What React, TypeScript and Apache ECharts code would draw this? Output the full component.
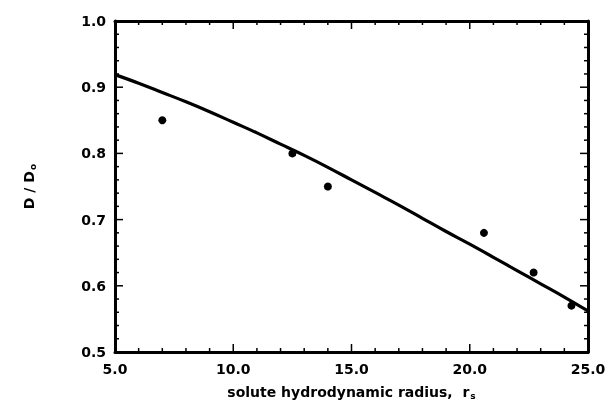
import React, { useEffect, useRef } from "react";
import * as echarts from "echarts";

const pointX = [7.0, 12.5, 14.0, 20.6, 22.7, 24.3];
const pointY = [0.85, 0.8, 0.75, 0.68, 0.62, 0.57];

const curveX = [5, 6, 7, 8, 9, 10, 11, 12, 13, 14, 15, 16, 17, 18, 19, 20, 21, 22, 23, 24, 25];
const curveY = [0.919, 0.906, 0.892, 0.878, 0.863, 0.847, 0.831, 0.814, 0.797, 0.779, 0.76, 0.741, 0.722, 0.702, 0.682, 0.663, 0.643, 0.623, 0.603, 0.583, 0.562];

const xMajorTicks = [5, 10, 15, 20, 25];
const xMinorPerMajor = 5;
const yMajorTicks = [0.5, 0.6, 0.7, 0.8, 0.9, 1.0];
const yMinorPerMajor = 5;

const xTitle = "solute hydrodynamic radius,  r";
const xTitleSub = "s";
const yTitle = "D / D";
const yTitleSub = "o";

const FONT = "DejaVu Sans";
const X_MIN = 5, X_MAX = 25, Y_MIN = 0.5, Y_MAX = 1.0;

function buildTicks() {
  const out: { v: number; axis: number; major: boolean }[] = [];
  for (let i = 0; i < xMajorTicks.length; i++) {
    out.push({ v: xMajorTicks[i], axis: 0, major: true });
    if (i < xMajorTicks.length - 1) {
      const step = (xMajorTicks[i + 1] - xMajorTicks[i]) / xMinorPerMajor;
      for (let k = 1; k < xMinorPerMajor; k++) out.push({ v: xMajorTicks[i] + k * step, axis: 0, major: false });
    }
  }
  for (let i = 0; i < yMajorTicks.length; i++) {
    out.push({ v: yMajorTicks[i], axis: 1, major: true });
    if (i < yMajorTicks.length - 1) {
      const step = (yMajorTicks[i + 1] - yMajorTicks[i]) / yMinorPerMajor;
      for (let k = 1; k < yMinorPerMajor; k++) out.push({ v: yMajorTicks[i] + k * step, axis: 1, major: false });
    }
  }
  return out;
}

export default function App() {
  const ref = useRef<HTMLDivElement>(null);
  useEffect(() => {
    if (!ref.current) return;
    const chart = echarts.init(ref.current, null, { renderer: "svg" });
    const axisLine = () => ({ show: true, onZero: false, lineStyle: { color: "#000", width: 3 } });
    const labelStyle = {
      color: "#000",
      fontFamily: FONT,
      fontWeight: "bold",
      fontSize: 14,
      formatter: (v: number) => v.toFixed(1),
    };
    const nameStyle = {
      color: "#000",
      fontFamily: FONT,
      fontWeight: "bold",
      fontSize: 14,
      rich: {
        sub: { fontFamily: FONT, fontWeight: "bold", fontSize: 9, color: "#000", verticalAlign: "bottom", padding: [8, 0, 0, 1] },
      },
    };
    chart.setOption({
      animation: false,
      grid: { left: 115, right: 21, top: 21, bottom: 58 },
      xAxis: [
        {
          type: "value",
          min: X_MIN,
          max: X_MAX,
          interval: 5,
          position: "bottom",
          axisLine: axisLine(),
          axisTick: { show: false },
          splitLine: { show: false },
          axisLabel: { ...labelStyle, margin: 10 },
          name: `${xTitle}{sub|${xTitleSub}}`,
          nameLocation: "middle",
          nameGap: 31,
          nameTextStyle: nameStyle,
        },
        {
          type: "value",
          min: X_MIN,
          max: X_MAX,
          interval: 5,
          position: "top",
          axisLine: axisLine(),
          axisTick: { show: false },
          splitLine: { show: false },
          axisLabel: { show: false },
        },
      ],
      yAxis: [
        {
          type: "value",
          min: Y_MIN,
          max: Y_MAX,
          interval: 0.1,
          position: "left",
          axisLine: axisLine(),
          axisTick: { show: false },
          splitLine: { show: false },
          axisLabel: { ...labelStyle, margin: 9 },
          name: `${yTitle}{sub|${yTitleSub}}`,
          nameLocation: "middle",
          nameRotate: 90,
          nameGap: 78,
          nameTextStyle: nameStyle,
        },
        {
          type: "value",
          min: Y_MIN,
          max: Y_MAX,
          interval: 0.1,
          position: "right",
          axisLine: axisLine(),
          axisTick: { show: false },
          splitLine: { show: false },
          axisLabel: { show: false },
        },
      ],
      series: [
        {
          type: "line",
          data: curveX.map((x, i) => [x, curveY[i]]),
          smooth: 0.4,
          showSymbol: false,
          symbol: "none",
          lineStyle: { color: "#000", width: 3.2 },
          z: 3,
        },
        {
          type: "scatter",
          data: pointX.map((x, i) => [x, pointY[i]]),
          symbol: "circle",
          symbolSize: 8,
          itemStyle: { color: "#000", opacity: 1 },
          z: 4,
        },
      ],
    });

    const ticks = buildTicks();
    const elements: any[] = [];
    const tickStyle = { stroke: "#000", lineWidth: 1.5 };
    ticks.forEach((t) => {
      const len = t.major ? 8 : 4;
      if (t.axis === 0) {
        const b = chart.convertToPixel({ gridIndex: 0 }, [t.v, Y_MIN]) as number[];
        const top = chart.convertToPixel({ gridIndex: 0 }, [t.v, Y_MAX]) as number[];
        elements.push({ type: "line", silent: true, z: 10, shape: { x1: b[0], y1: b[1], x2: b[0], y2: b[1] - len }, style: tickStyle });
        elements.push({ type: "line", silent: true, z: 10, shape: { x1: top[0], y1: top[1], x2: top[0], y2: top[1] + len }, style: tickStyle });
      } else {
        const l = chart.convertToPixel({ gridIndex: 0 }, [X_MIN, t.v]) as number[];
        const r = chart.convertToPixel({ gridIndex: 0 }, [X_MAX, t.v]) as number[];
        elements.push({ type: "line", silent: true, z: 10, shape: { x1: l[0], y1: l[1], x2: l[0] + len, y2: l[1] }, style: tickStyle });
        elements.push({ type: "line", silent: true, z: 10, shape: { x1: r[0], y1: r[1], x2: r[0] - len, y2: r[1] }, style: tickStyle });
      }
    });
    chart.setOption({ graphic: { elements } });

    return () => chart.dispose();
  }, []);
  return <div ref={ref} style={{ position: "fixed", left: 0, top: 0, width: 609, height: 410 }} />;
}
